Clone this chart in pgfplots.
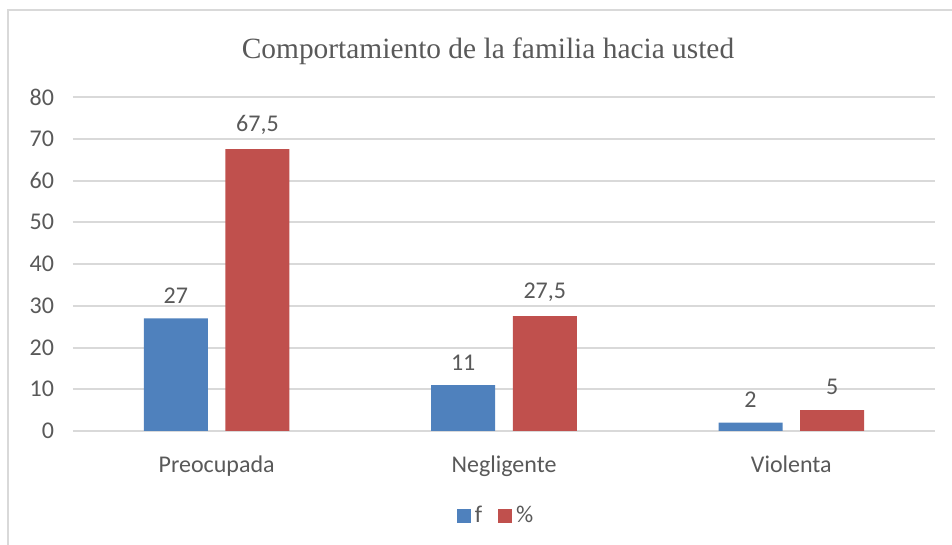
\documentclass[border=0pt]{standalone}
\usepackage{pgfplots}
\pgfplotsset{compat=1.18}
\usepackage{fontspec}
\setmainfont{Carlito}
\newfontfamily\titlefont{Liberation Serif}
\definecolor{cblue}{HTML}{4F81BD}
\definecolor{cred}{HTML}{C0504D}
\definecolor{gridc}{HTML}{D9D9D9}
\definecolor{txt}{HTML}{595959}
\begin{document}
\begin{tikzpicture}
\useasboundingbox (0,0) rectangle (476pt,272.5pt);
\draw[gridc, line width=1.2pt] (4pt,0) -- (4pt,267.5pt) -- (476pt,267.5pt);
\node[font=\titlefont\fontsize{14.7}{17}\selectfont, text=txt] at (244pt,247pt) {Comportamiento de la familia hacia usted};
\begin{axis}[
  at={(36.5pt,57pt)}, anchor=south west,
  scale only axis, width=431pt, height=167pt,
  xmin=-0.5, xmax=2.5, ymin=0, ymax=80,
  ytick={0,10,...,80},
  xtick={0,1,2}, xticklabels={Preocupada,Negligente,Violenta},
  axis line style={draw=none},
  ymajorgrids, grid style={gridc, line width=1pt},
  major tick length=0pt,
  tick label style={font=\fontsize{12}{14}\selectfont, text=txt},
  yticklabel style={xshift=-6pt},
  xticklabel style={yshift=-9pt},
  /pgf/number format/assume math mode=true,
  /pgf/number format/use comma,
  ybar, bar width=32pt,
  nodes near coords,
  every node near coord/.append style={font=\fontsize{12}{14}\selectfont, text=txt, yshift=4pt},
  legend style={draw=none, at={(axis description cs:0.492,-0.254)}, anchor=center,
    legend columns=2, font=\fontsize{12}{14}\selectfont, text=txt,
    /tikz/every even column/.append style={column sep=6pt}},
  legend image code/.code={\fill[#1] (0pt,-3.5pt) rectangle (7pt,3.5pt);},
  clip=false,
]
\addplot[fill=cblue, draw=none, bar shift=-20.4pt] coordinates {(0,27) (1,11) (2,2)};
\addplot[fill=cred, draw=none, bar shift=20.4pt] coordinates {(0,67.5) (1,27.5) (2,5)};
\legend{f,\%}
\end{axis}
\end{tikzpicture}
\end{document}
